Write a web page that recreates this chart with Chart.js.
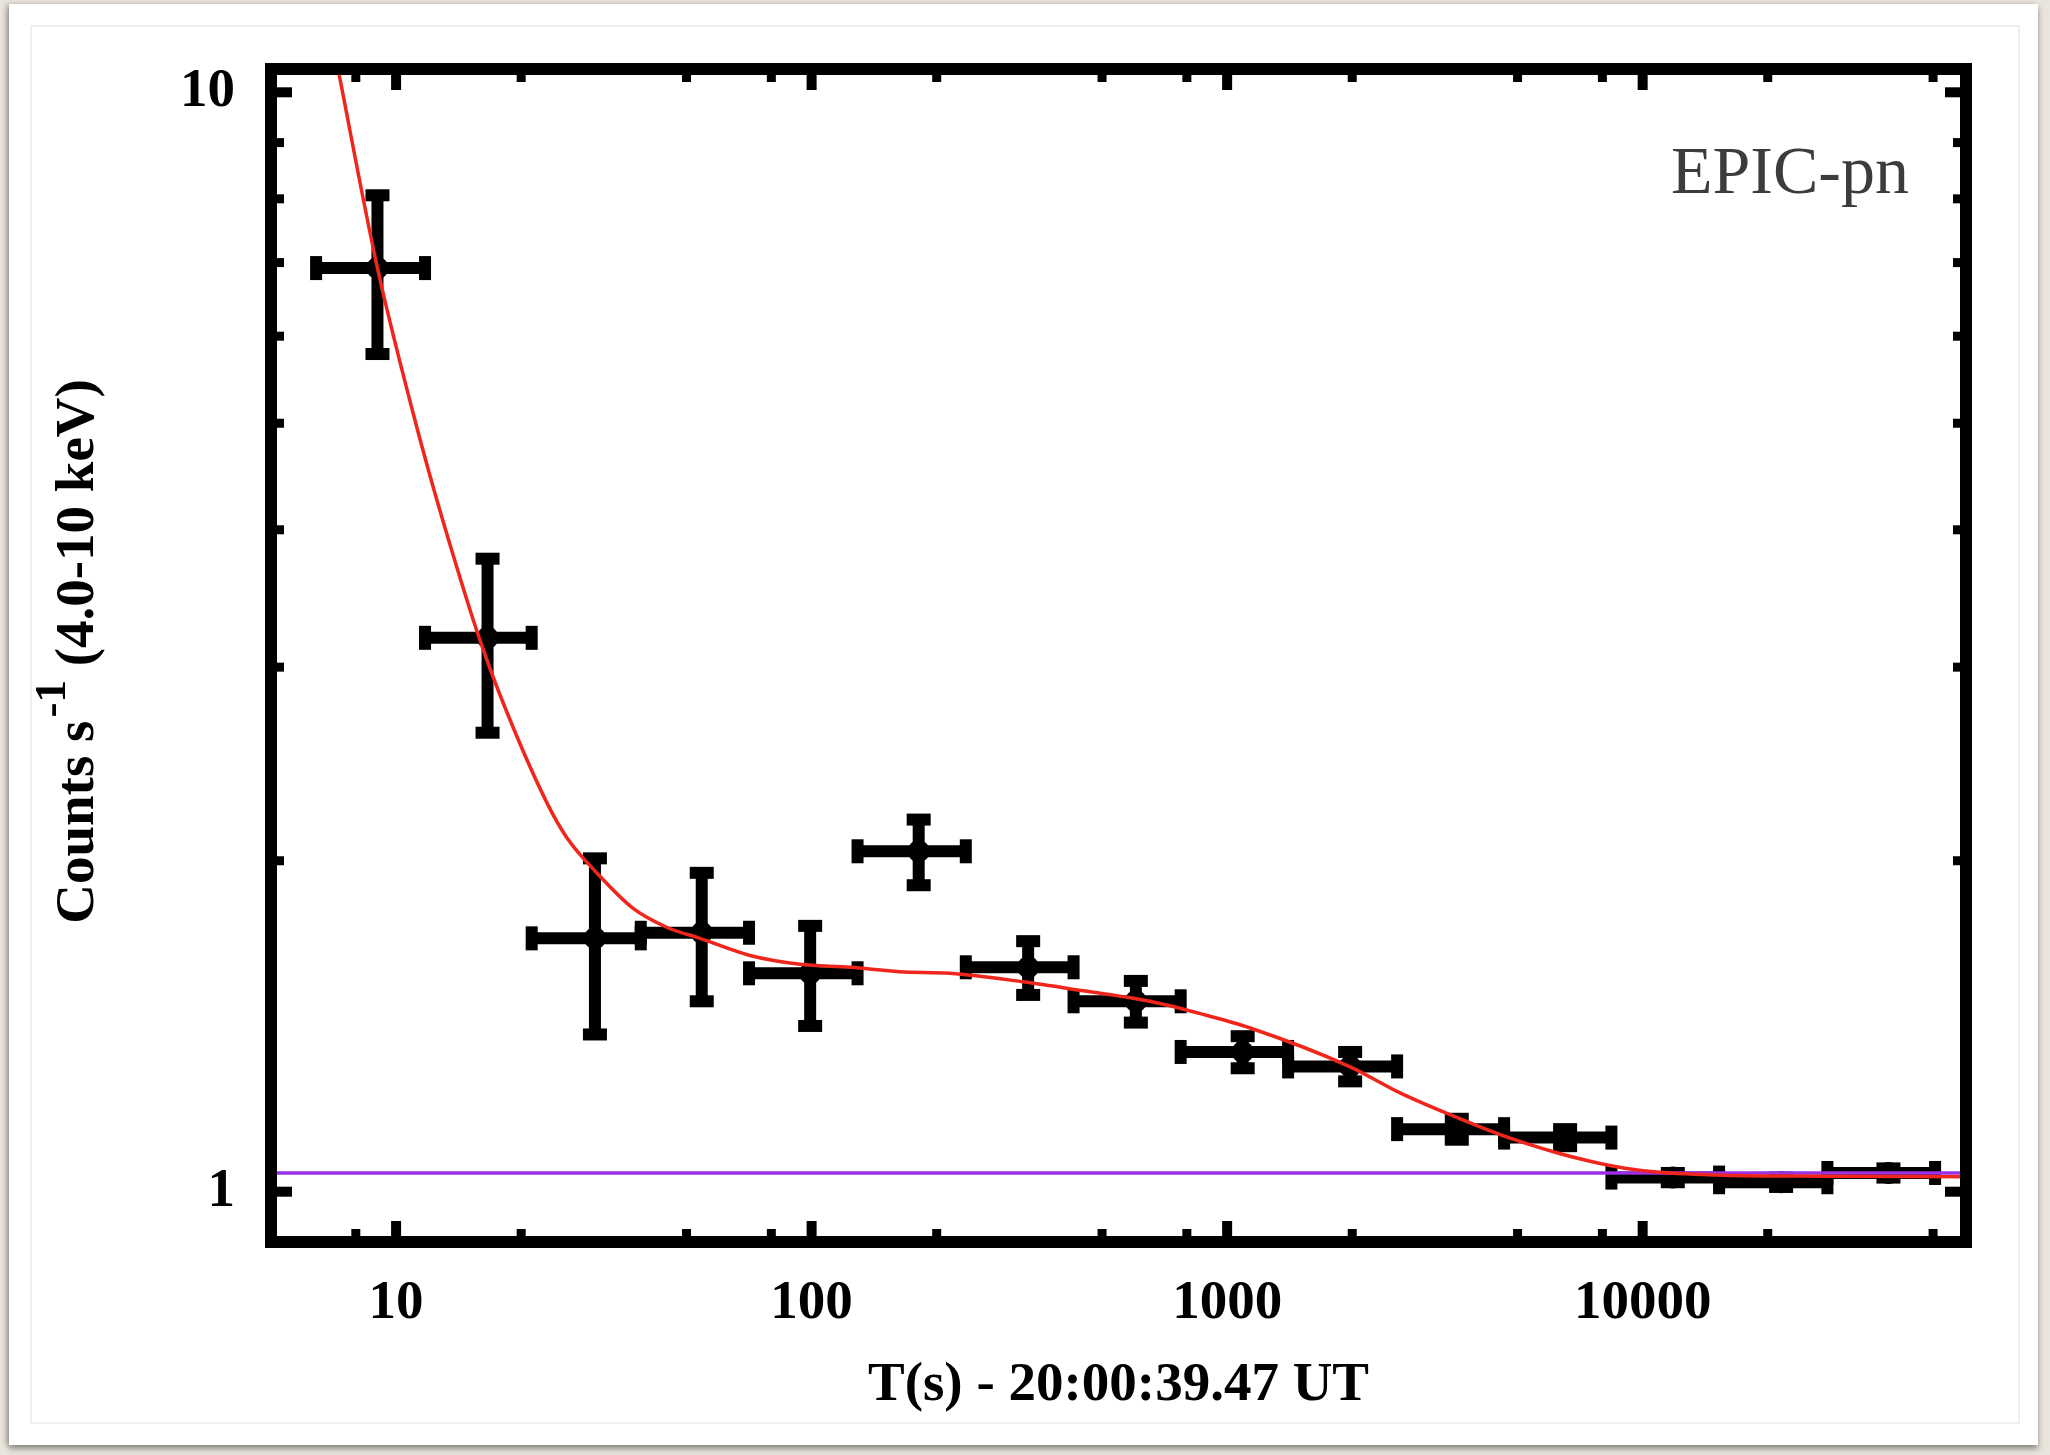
<!DOCTYPE html>
<html>
<head>
<meta charset="utf-8">
<title>EPIC-pn light curve</title>
<script src="https://cdn.jsdelivr.net/npm/chart.js@4.4.1/dist/chart.umd.min.js"></script>
<style>
  html, body { margin: 0; padding: 0; }
  body { width: 2050px; height: 1455px; background: #e9e5dd; position: relative; overflow: hidden; }
  .card { position: absolute; left: 9px; top: 4px; width: 2029px; height: 1441px; background: #fff;
          box-shadow: 0 4px 6px rgba(0,0,0,0.35), -3px 0 5px rgba(0,0,0,0.2); }
  .inner { position: absolute; left: 30px; top: 25px; width: 1986px; height: 1395px; border: 2px solid #efefef; }
  #chart { position: absolute; left: 0; top: 0; }
</style>
</head>
<body>
<div class="card"></div>
<div class="inner"></div>
<canvas id="chart" width="2050" height="1455"></canvas>
<script>
// binned light curve (4.0-10 keV)
var timeLo  = [6.42, 11.74, 21.2, 38.8, 70.7, 129, 235, 427, 773, 1402, 2565, 4640, 8410, 15275, 27836];
var timeHi  = [11.74, 21.2, 38.8, 70.7, 129, 235, 427, 773, 1402, 2565, 4640, 8410, 15275, 27836, 50556];
var time    = [9.02, 16.6, 30.1, 54.4, 99.2, 181, 332, 603, 1090, 1977, 3570, 6507, 11817, 21537, 39037];
var rate    = [6.92, 3.19, 1.70, 1.72, 1.58, 2.04, 1.60, 1.49, 1.34, 1.30, 1.14, 1.12, 1.03, 1.02, 1.04];
var rateErr = [1.14, 0.575, 0.31, 0.23, 0.165, 0.14, 0.09, 0.065, 0.045, 0.04, 0.025, 0.02, 0.01, 0.01, 0.01];

// fitted model (red)
var modelT    = [7.25, 7.30, 9.02, 11.0, 12.29, 13.73, 15.63, 17.79, 23.04, 25.74, 30.4, 37.2, 44.8, 53.9, 71.1, 93.8,
                 123.8, 163, 215, 323, 451, 652, 861, 1136, 1977, 2607, 3440, 4539, 6216, 7473, 8985, 10814, 15617, 27186, 60000];
var modelRate = [10.5, 10.36, 6.92, 5.10, 4.37, 3.79, 3.24, 2.83, 2.26, 2.10, 1.95, 1.81, 1.74, 1.70, 1.64, 1.61,
                 1.60, 1.585, 1.58, 1.552, 1.523, 1.49, 1.452, 1.409, 1.299, 1.230, 1.175, 1.127, 1.085, 1.066, 1.051, 1.042, 1.035, 1.033, 1.032];

// background level (purple)
var bkgRate = 1.04;

var xTicks = [10, 100, 1000, 10000];
var xMinorTicks = [8, 20, 50, 80, 200, 500, 800, 2000, 5000, 8000, 20000, 50000];
var yTicks = [1, 10];
var yMinorTicks = [2, 3, 4, 5, 6, 7, 8, 9];

var serif = '"Liberation Serif", "Times New Roman", serif';

var framePlugin = {
    id: 'frame',
    beforeDatasetsDraw: function (chart) {
        var c = chart.ctx, xs = chart.scales.x, ys = chart.scales.y;
        c.save();
        c.fillStyle = '#000';
        c.strokeStyle = '#000';
        c.lineWidth = 12;
        c.lineCap = 'butt';
        for (var i = 0; i < time.length; i++) {
            var px = xs.getPixelForValue(time[i]);
            var py = ys.getPixelForValue(rate[i]);
            var x0 = xs.getPixelForValue(timeLo[i]);
            var x1 = xs.getPixelForValue(timeHi[i]);
            var y0 = ys.getPixelForValue(rate[i] + rateErr[i]);
            var y1 = ys.getPixelForValue(rate[i] - rateErr[i]);
            c.beginPath();
            c.moveTo(x0, py); c.lineTo(x1, py);
            c.moveTo(px, y0); c.lineTo(px, y1);
            c.stroke();
            c.fillRect(x0 - 6, py - 12, 12, 24);
            c.fillRect(x1 - 6, py - 12, 12, 24);
            c.fillRect(px - 12, y0 - 6, 24, 12);
            c.fillRect(px - 12, y1 - 6, 24, 12);
        }
        c.restore();
    },
    afterDraw: function (chart) {
        var c = chart.ctx, a = chart.chartArea, xs = chart.scales.x, ys = chart.scales.y;
        c.save();
        c.fillStyle = '#000';
        // ticks pointing inward, on all four sides
        var half = 6;
        function xTick(v, len, w) {
            var p = xs.getPixelForValue(v);
            c.fillRect(p - w / 2, a.bottom - half - len, w, len);
            c.fillRect(p - w / 2, a.top + half, w, len);
        }
        function yTick(v, len, w) {
            var p = ys.getPixelForValue(v);
            c.fillRect(a.left + half, p - w / 2, len, w);
            c.fillRect(a.right - half - len, p - w / 2, len, w);
        }
        xTicks.forEach(function (v) { xTick(v, 15, 10); });
        xMinorTicks.forEach(function (v) { xTick(v, 7, 9); });
        yTicks.forEach(function (v) { yTick(v, 15, 10); });
        yMinorTicks.forEach(function (v) { yTick(v, 7, 9); });

        // frame
        c.strokeStyle = '#000';
        c.lineWidth = 12;
        c.strokeRect(a.left, a.top, a.right - a.left, a.bottom - a.top);

        // instrument label
        c.font = '68px ' + serif;
        c.fillStyle = '#3c3c3c';
        c.textBaseline = 'alphabetic';
        c.textAlign = 'left';
        c.fillText('EPIC-pn', 1671, 193);

        // y title with superscript
        c.fillStyle = '#000';
        var big = 'bold 55px ' + serif, small = 'bold 45px ' + serif;
        var p1 = 'Counts s', sup = '-1', p2 = ' (4.0-10 keV)';
        c.font = big;
        var w1 = c.measureText(p1).width, w3 = c.measureText(p2).width;
        c.font = small;
        var w2 = c.measureText(sup).width;
        var total = w1 + 3 + w2 + w3;
        c.translate(93, (a.top + a.bottom) / 2 - 4);
        c.rotate(-Math.PI / 2);
        var u = -total / 2;
        c.font = big; c.fillText(p1, u, 0); u += w1 + 3;
        c.font = small; c.fillText(sup, u, -28); u += w2;
        c.font = big; c.fillText(p2, u, 0);
        c.restore();
    }
};

var ctx = document.getElementById('chart');
var chart = new Chart(ctx, {
    type: 'scatter',
    data: {
        datasets: [
            {
                label: 'model',
                type: 'line',
                data: modelT.map(function (t, i) { return { x: t, y: modelRate[i] }; }),
                borderColor: '#f0261c',
                borderWidth: 3.5,
                pointRadius: 0,
                cubicInterpolationMode: 'monotone',
                order: 1
            },
            {
                label: 'background',
                type: 'line',
                data: [{ x: 5, y: bkgRate }, { x: 60000, y: bkgRate }],
                borderColor: '#9b2fe4',
                borderWidth: 3.5,
                pointRadius: 0,
                order: 2
            },
            {
                label: 'EPIC-pn',
                data: time.map(function (t, i) { return { x: t, y: rate[i] }; }),
                backgroundColor: '#000',
                borderWidth: 0,
                pointRadius: 11,
                order: 3
            }
        ]
    }, options: {
        responsive: false,
        animation: false,
        layout: { padding: { left: 0, top: 63, right: 84, bottom: 0 } },
        plugins: { legend: { display: false }, tooltip: { enabled: false } },
        scales: {
            x: {
                type: 'logarithmic',
                position: 'bottom',
                min: 5,
                max: 60000,
                afterFit: function (s) { s.height = 213; },
                afterBuildTicks: function (s) { s.ticks = xTicks.map(function (v) { return { value: v }; }); },
                grid: { display: false, drawTicks: false },
                border: { display: false },
                ticks: {
                    padding: 29, color: '#000', autoSkip: false, maxRotation: 0,
                    font: { family: serif, size: 55, weight: 'bold' },
                    callback: function (v) { return String(v); }
                },
                title: {
                    display: true, text: 'T(s) - 20:00:39.47 UT', color: '#000',
                    font: { family: serif, size: 55, weight: 'bold' },
                    padding: { top: 0, bottom: 36 }
                }
            },
            y: {
                type: 'logarithmic',
                min: 0.9,
                max: 10.5,
                afterFit: function (s) { s.width = 271; },
                afterBuildTicks: function (s) { s.ticks = yTicks.map(function (v) { return { value: v }; }); },
                grid: { display: false, drawTicks: false },
                border: { display: false },
                ticks: {
                    padding: 36, color: '#000', autoSkip: false,
                    font: { family: serif, size: 55, weight: 'bold' },
                    callback: function (v) { return String(v); }
                }
            }
        }
    },
    plugins: [framePlugin]
});
</script>
</body>
</html>
